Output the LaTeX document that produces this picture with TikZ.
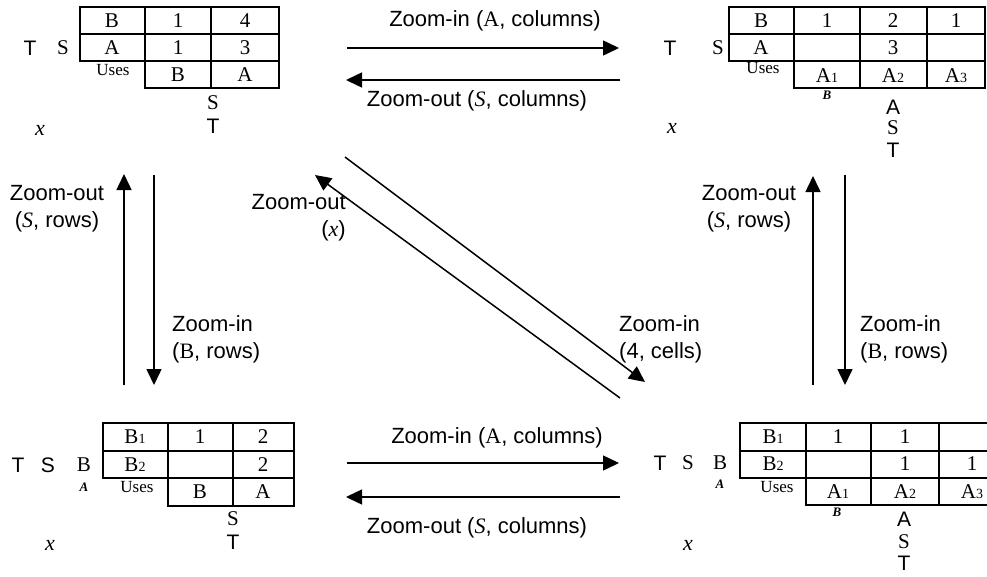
\documentclass[tikz,border=0pt]{standalone}
\usepackage{fontspec}
\setmainfont{Liberation Serif}
\setsansfont{Liberation Sans}
\usetikzlibrary{arrows.meta}
\newcommand\dsub[1]{{\fontsize{14}{14}\selectfont #1}}
\begin{document}
\begin{tikzpicture}[x=1pt,y=-1pt,
 tbl/.style={line width=1.7pt},
 arr/.style={line width=1.5pt,-{Triangle[length=16pt,width=15pt]}},
 cell/.style={font=\fontsize{21}{24}\selectfont, inner sep=0pt},
 uses/.style={font=\fontsize{17}{20}\selectfont, inner sep=0pt},
 sanslbl/.style={font=\sffamily\fontsize{21}{24}\selectfont, inner sep=0pt},
 serlbl/.style={font=\fontsize{21}{24}\selectfont, inner sep=0pt},
 varx/.style={font=\itshape\fontsize{22}{24}\selectfont, inner sep=0pt},
 tinyit/.style={font=\bfseries\itshape\fontsize{13}{14}\selectfont, inner sep=0pt},
 zlbl/.style={font=\sffamily\fontsize{22}{27}\selectfont, inner sep=0pt}]
\path[use as bounding box, clip] (0,0) rectangle (987,576);
\fill[white] (0,0) rectangle (987,576);

% ---------- top-left table ----------
\draw[tbl] (80,7) rectangle (279,61);
\draw[tbl] (145,61) rectangle (279,88);
\draw[tbl] (80,34) -- (279,34);
\draw[tbl] (145,7) -- (145,88);
\draw[tbl] (211,7) -- (211,88);
\node[cell] (tl11) at (112,21) {B};
\node[cell] (tl12) at (178,21) {1};
\node[cell] (tl13) at (245,21) {4};
\node[cell] (tl21) at (112,48) {A};
\node[cell] (tl22) at (178,48) {1};
\node[cell] (tl23) at (245,48) {3};
\node[cell] (tl32) at (178,75) {B};
\node[cell] (tl33) at (245,75) {A};
\node[uses] (tlu) at (113,70) {Uses};
\node[sanslbl] (tlT) at (30,48) {T};
\node[serlbl] (tlS) at (63,48) {S};
\node[varx] (tlx) at (40,130) {x};
\node[serlbl] (tlS2) at (213,103) {S};
\node[sanslbl] (tlT2) at (213,126) {T};

% ---------- top-right table ----------
\draw[tbl] (729,7) rectangle (985,61);
\draw[tbl] (794,61) rectangle (985,88);
\draw[tbl] (729,34) -- (985,34);
\draw[tbl] (794,7) -- (794,88);
\draw[tbl] (860,7) -- (860,88);
\draw[tbl] (927,7) -- (927,88);
\node[cell] (tr11) at (761,21) {B};
\node[cell] (tr12) at (827,21) {1};
\node[cell] (tr13) at (893,21) {2};
\node[cell] (tr14) at (956,21) {1};
\node[cell] (tr21) at (761,48) {A};
\node[cell] (tr23) at (893,48) {3};
\node[cell] (tr32) at (827,76) {A\dsub{1}};
\node[cell] (tr33) at (893,76) {A\dsub{2}};
\node[cell] (tr34) at (956,76) {A\dsub{3}};
\node[uses] (tru) at (763,68) {Uses};
\node[sanslbl] (trT) at (670,48) {T};
\node[serlbl] (trS) at (718,48) {S};
\node[varx] (trx) at (672,128) {x};
\node[tinyit] (trB) at (827,95) {B};
\node[sanslbl] (trA2) at (893,107) {A};
\node[serlbl] (trS2) at (893,128) {S};
\node[sanslbl] (trT2) at (893,150) {T};

% ---------- bottom-left table ----------
\draw[tbl] (103,423) rectangle (294,478);
\draw[tbl] (168,478) rectangle (294,506);
\draw[tbl] (103,451) -- (294,451);
\draw[tbl] (168,423) -- (168,506);
\draw[tbl] (233,423) -- (233,506);
\node[cell] (bl11) at (135,437) {B\dsub{1}};
\node[cell] (bl12) at (200,437) {1};
\node[cell] (bl13) at (263,437) {2};
\node[cell] (bl21) at (135,465) {B\dsub{2}};
\node[cell] (bl23) at (263,465) {2};
\node[cell] (bl32) at (200,492) {B};
\node[cell] (bl33) at (263,492) {A};
\node[uses] (blu) at (137,487) {Uses};
\node[sanslbl] (blT) at (18,465) {T};
\node[sanslbl] (blS) at (48,465) {S};
\node[serlbl] (blB) at (84,465) {B};
\node[tinyit] (blA) at (84,487) {A};
\node[varx] (blx) at (50,545) {x};
\node[serlbl] (blS2) at (233,519) {S};
\node[sanslbl] (blT2) at (233,542) {T};

% ---------- bottom-right table ----------
\draw[tbl] (740,423) rectangle (1005,478);
\draw[tbl] (806,478) rectangle (1005,505);
\draw[tbl] (740,451) -- (1005,451);
\draw[tbl] (806,423) -- (806,505);
\draw[tbl] (871,423) -- (871,505);
\draw[tbl] (939,423) -- (939,505);
\node[cell] (br11) at (773,437) {B\dsub{1}};
\node[cell] (br12) at (838,437) {1};
\node[cell] (br13) at (905,437) {1};
\node[cell] (br21) at (773,464) {B\dsub{2}};
\node[cell] (br23) at (905,464) {1};
\node[cell] (br24) at (972,464) {1};
\node[cell] (br32) at (838,492) {A\dsub{1}};
\node[cell] (br33) at (905,492) {A\dsub{2}};
\node[cell] (br34) at (972,492) {A\dsub{3}};
\node[uses] (bru) at (777,487) {Uses};
\node[sanslbl] (brT) at (660,463) {T};
\node[serlbl] (brS) at (688,463) {S};
\node[serlbl] (brB) at (720,463) {B};
\node[tinyit] (brA) at (720,484) {A};
\node[varx] (brx) at (688,545) {x};
\node[tinyit] (brBb) at (837,512) {B};
\node[sanslbl] (brA2) at (904,519) {A};
\node[serlbl] (brS2) at (904,542) {S};
\node[sanslbl] (brT2) at (904,563) {T};

% ---------- arrow end points ----------
\coordinate (a1s) at (347,48);  \coordinate (a1e) at (619,48);
\coordinate (a2s) at (620,80);  \coordinate (a2e) at (346,80);
\coordinate (a3s) at (347,463); \coordinate (a3e) at (619,463);
\coordinate (a4s) at (620,497); \coordinate (a4e) at (346,497);
\coordinate (a5s) at (124,385); \coordinate (a5e) at (124,174);
\coordinate (a6s) at (154,175); \coordinate (a6e) at (154,385);
\coordinate (a7s) at (813,385); \coordinate (a7e) at (813,176);
\coordinate (a8s) at (845,175); \coordinate (a8e) at (845,385);
\coordinate (a9s) at (345,157); \coordinate (a9e) at (645,382);
\coordinate (a10s) at (620,398); \coordinate (a10e) at (315,175);

\draw[arr] (a1s) -- (a1e);
\draw[arr] (a2s) -- (a2e);
\draw[arr] (a3s) -- (a3e);
\draw[arr] (a4s) -- (a4e);
\draw[arr] (a5s) -- (a5e);
\draw[arr] (a6s) -- (a6e);
\draw[arr] (a7s) -- (a7e);
\draw[arr] (a8s) -- (a8e);
\draw[arr] (a9s) -- (a9e);
\draw[arr] (a10s) -- (a10e);

% ---------- arrow labels ----------
\node[zlbl] (lt1) at (495,21) {Zoom-in ({\rmfamily A}, columns)};
\node[zlbl] (lt2) at (477,101) {Zoom-out ({\rmfamily\itshape S}, columns)};
\node[zlbl] (lb1) at (497,438) {Zoom-in ({\rmfamily A}, columns)};
\node[zlbl] (lb2) at (477,528) {Zoom-out ({\rmfamily\itshape S}, columns)};
\node[zlbl,align=center] (ll1) at (57,209) {Zoom-out\\({\rmfamily\itshape S}, rows)};
\node[zlbl,align=left,anchor=west] (ll2) at (172,339) {Zoom-in\\({\rmfamily B}, rows)};
\node[zlbl,align=center] (lr1) at (749,209) {Zoom-out\\({\rmfamily\itshape S}, rows)};
\node[zlbl,align=left,anchor=west] (lr2) at (860,339) {Zoom-in\\({\rmfamily B}, rows)};
\node[zlbl,align=left,anchor=west] (ld1) at (619,339) {Zoom-in\\(4, cells)};
\node[zlbl,align=right,anchor=east] (ld2) at (346,218) {Zoom-out\\({\rmfamily\itshape x})};
\end{tikzpicture}
\end{document}
